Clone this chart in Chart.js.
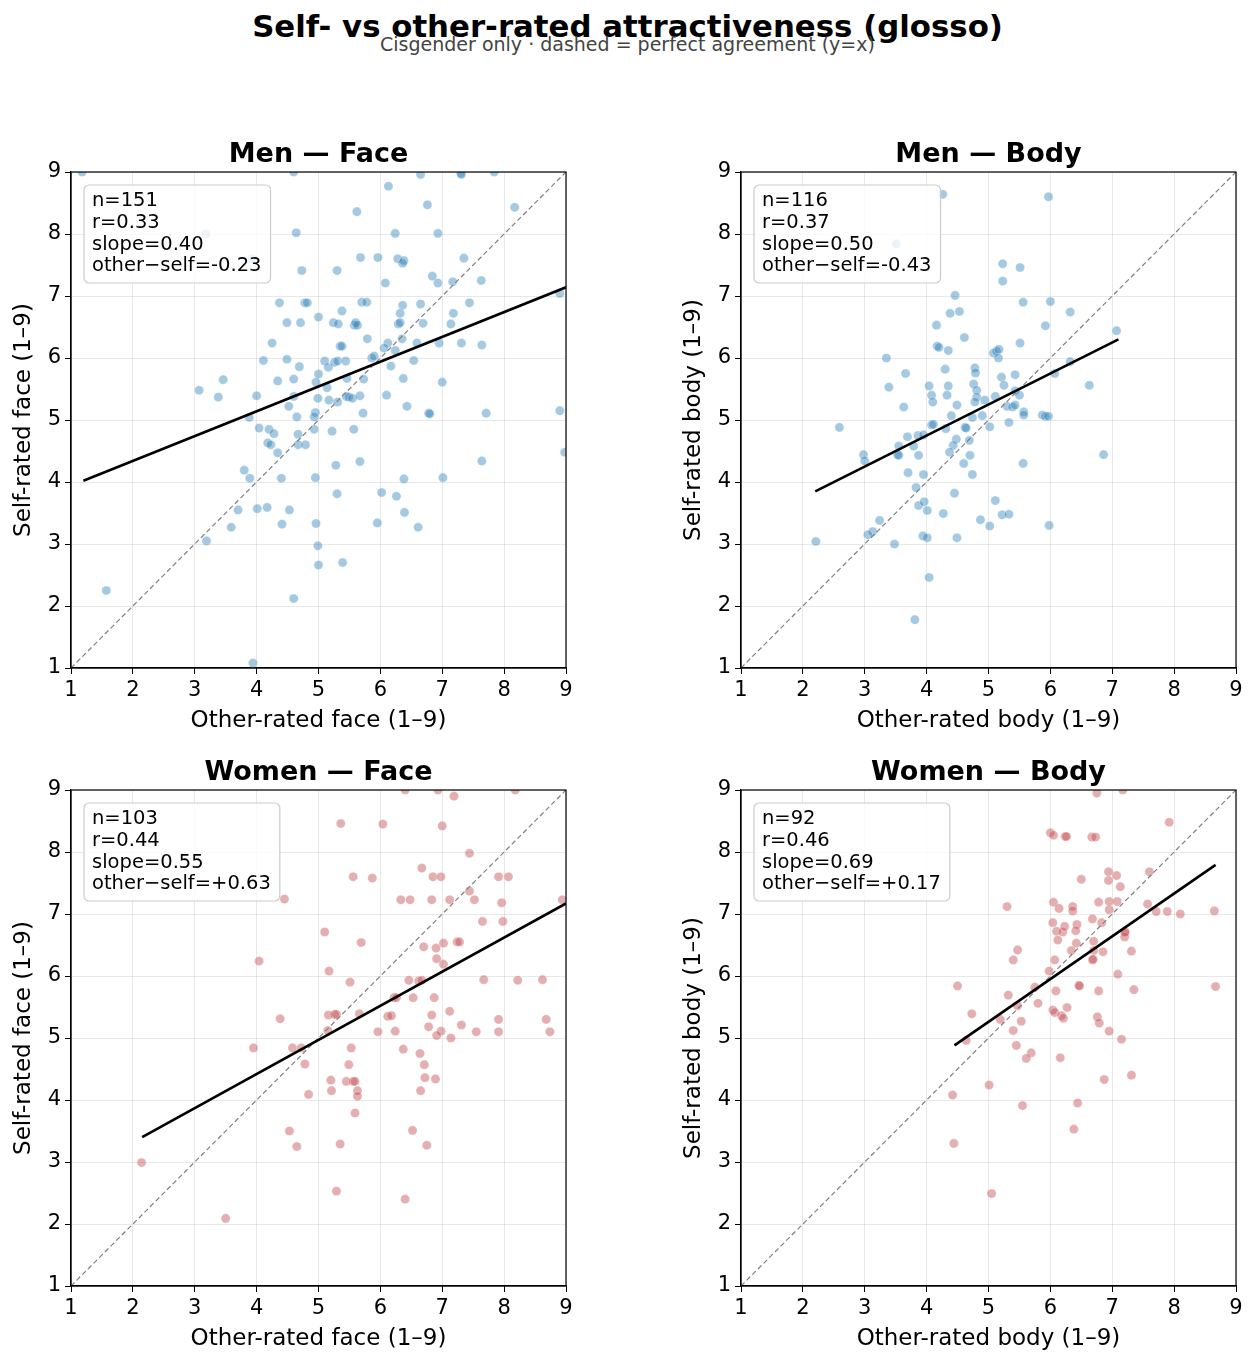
<!DOCTYPE html>
<html>
<head>
<meta charset="utf-8">
<script src="https://cdn.jsdelivr.net/npm/chart.js@4.4.1/dist/chart.umd.min.js"></script>
<style>
  body { margin: 0; background: #fff; width: 1255px; height: 1364px; position: relative; overflow: hidden; font-family: "DejaVu Sans", sans-serif; }
  canvas { position: absolute; }
  #title { position: absolute; left: 0; width: 1255px; top: 9px; text-align: center; font-weight: bold; font-size: 30.8px; line-height: 34px; }
  #sub { position: absolute; left: 0; width: 1255px; top: 34px; text-align: center; font-size: 19px; line-height: 20px; color: #444; }
</style>
</head>
<body>
<div id="title">Self- vs other-rated attractiveness (glosso)</div>
<div id="sub">Cisgender only · dashed = perfect agreement (y=x)</div>
<canvas id="menFace" width="600" height="620" style="left:0;top:130px"></canvas>
<canvas id="menBody" width="585" height="620" style="left:670px;top:130px"></canvas>
<canvas id="womenFace" width="600" height="620" style="left:0;top:748px"></canvas>
<canvas id="womenBody" width="585" height="620" style="left:670px;top:748px"></canvas>
<script>
// axis range and ticks shared by all four panels
const axisMin = 1;
const axisMax = 9;

// Men — face: other-rated (x) vs self-rated (y)
const menFaceOther = [1.18, 4.6, 3.18, 4.64, 3.92, 4.73, 4.37, 4.78, 4.82, 5.0, 4.49, 4.71, 4.25, 4.11, 4.49, 4.69, 3.46, 4.34, 4.6, 3.07,
  3.38, 4.0, 4.52, 4.6, 5.0, 4.96, 4.99, 3.88, 4.65, 4.95, 4.93, 4.93, 4.04, 4.2, 4.28, 4.18, 4.23, 4.67, 4.67, 4.79,
  4.34, 3.8, 3.89, 4.4, 4.95, 3.7, 4.01, 4.17, 4.53, 3.59, 4.41, 4.96, 3.19, 4.99, 5.0, 1.57, 4.6, 3.94,
  6.65, 7.3, 7.31, 7.84, 6.13, 5.62, 6.76, 8.17, 6.24, 6.93, 5.68, 5.96, 6.28, 6.38, 6.36, 7.35, 5.3, 6.08, 6.84, 6.93,
  7.17, 7.63, 8.9, 5.7, 5.78, 5.38, 6.36, 6.65, 7.44, 5.24, 5.32, 5.58, 5.6, 5.63, 6.32, 6.29, 6.32, 6.69, 7.18, 7.14,
  5.79, 5.35, 5.38, 6.12, 6.06, 6.35, 6.24, 6.59, 6.95, 7.31, 7.64, 5.86, 5.9, 6.17, 6.54, 5.1, 5.16, 5.26, 5.31, 5.44,
  5.14, 5.46, 5.73, 6.37, 5.17, 5.31, 5.45, 5.49, 5.55, 5.67, 6.1, 7.0, 5.72, 6.43, 6.78, 6.8, 7.71, 8.9, 5.22, 5.57,
  8.98, 5.28, 5.67, 7.64, 6.38, 7.01, 5.3, 6.02, 6.26, 6.39, 5.95, 6.61, 5.39];
const menFaceSelf = [9.0, 9.0, 8.0, 8.02, 7.6, 7.41, 6.89, 6.89, 6.89, 6.66, 6.57, 6.57, 6.24, 5.96, 5.98, 5.86, 5.65, 5.63, 5.66, 5.48,
  5.37, 5.39, 5.22, 5.38, 5.74, 5.61, 5.35, 5.04, 5.05, 5.12, 5.05, 4.85, 4.87, 4.85, 4.78, 4.63, 4.6, 4.77, 4.6, 4.6,
  4.47, 4.19, 4.06, 4.06, 4.07, 3.55, 3.57, 3.59, 3.55, 3.27, 3.32, 3.33, 3.05, 2.97, 2.66, 2.25, 2.12, 1.08,
  8.96, 8.98, 8.96, 9.0, 8.77, 8.36, 8.47, 8.43, 8.01, 8.01, 7.62, 7.62, 7.6, 7.57, 7.53, 7.61, 7.41, 7.21, 7.32, 7.21,
  7.23, 7.25, 7.04, 6.9, 6.9, 6.76, 6.85, 6.87, 6.89, 6.57, 6.55, 6.53, 6.57, 6.53, 6.72, 6.55, 6.57, 6.56, 6.72, 6.55,
  6.31, 6.19, 6.19, 6.24, 6.16, 6.31, 6.12, 6.24, 6.24, 6.24, 6.21, 6.0, 6.03, 5.87, 5.96, 5.95, 5.85, 5.93, 5.95, 5.95,
  5.52, 5.67, 5.66, 5.67, 5.32, 5.29, 5.38, 5.37, 5.35, 5.39, 5.4, 5.61, 5.11, 5.22, 5.11, 5.1, 5.11, 5.15, 4.82, 4.85,
  4.48, 4.27, 4.33, 4.34, 4.05, 4.07, 3.81, 3.83, 3.77, 3.51, 3.34, 3.27, 2.7];

// Men — body
const menBodyOther = [4.26, 3.51, 4.46, 4.38, 4.53, 4.16, 4.61, 4.17, 4.2, 4.35, 3.35, 3.66, 4.3, 4.78, 4.79, 3.39, 4.04, 4.35, 4.76, 4.81,
  4.08, 4.33, 4.81, 4.1, 4.49, 4.78, 3.63, 4.94, 4.4, 4.74, 4.9, 2.59, 4.08, 4.11, 4.31, 4.62, 4.64, 3.86, 3.95, 3.69,
  3.55, 3.79, 4.48, 4.43, 4.69, 3.53, 3.55, 3.87, 4.37, 4.7, 2.98, 3.0, 4.6, 3.7, 3.95, 4.74, 3.83, 4.45, 3.87, 3.96,
  4.01, 4.27, 3.24, 3.13, 3.05, 4.87, 2.21, 3.48, 3.94, 4.01, 4.49, 4.04, 3.81,
  5.97, 5.23, 5.51, 5.23, 5.56, 6.0, 6.32, 5.92, 7.07, 5.51, 5.08, 5.13, 5.17, 5.16, 6.32, 6.07, 5.21, 5.43, 5.25, 6.63,
  5.11, 5.43, 5.5, 5.3, 5.39, 5.43, 5.57, 5.57, 5.87, 5.92, 5.97, 5.02, 5.33, 6.86, 5.56, 5.11, 5.22, 5.33, 5.02, 5.98];
const menBodySelf = [8.64, 7.84, 7.01, 6.72, 6.75, 6.53, 6.33, 6.19, 6.17, 6.12, 6.0, 5.75, 5.82, 5.84, 5.76, 5.53, 5.55, 5.55, 5.58, 5.48,
  5.4, 5.4, 5.37, 5.29, 5.24, 5.29, 5.21, 5.32, 5.07, 5.04, 5.07, 4.88, 4.92, 4.93, 4.86, 4.88, 4.87, 4.75, 4.76, 4.73,
  4.58, 4.58, 4.69, 4.59, 4.67, 4.44, 4.43, 4.43, 4.48, 4.43, 4.44, 4.34, 4.3, 4.15, 4.12, 4.12, 3.91, 3.82, 3.62, 3.68,
  3.54, 3.49, 3.38, 3.2, 3.15, 3.39, 3.04, 3.0, 3.13, 3.1, 3.1, 2.46, 1.78,
  8.6, 7.52, 7.46, 7.24, 6.9, 6.91, 6.74, 6.52, 6.44, 6.24, 6.08, 6.11, 6.14, 6.0, 5.94, 5.75, 5.69, 5.73, 5.56, 5.56,
  5.38, 5.47, 5.4, 5.22, 5.21, 5.24, 5.13, 5.08, 5.08, 5.06, 5.06, 4.89, 4.96, 4.44, 4.3, 3.7, 3.47, 3.48, 3.29, 3.3];

// Women — face
const womenFaceOther = [4.45, 4.04, 4.38, 3.95, 4.58, 4.72, 4.78, 4.84, 4.53, 4.65, 2.14, 3.5,
  6.4, 6.93, 7.19, 8.18, 5.36, 6.04, 7.0, 7.44, 6.67, 5.56, 5.87, 6.85, 6.98, 7.91, 8.07, 7.44, 6.33, 6.48,
  6.83, 7.12, 7.52, 7.96, 8.94, 7.65, 7.98, 5.1, 5.69, 6.7, 6.9, 7.02, 7.24, 7.28, 6.91, 7.02, 5.17, 5.51, 6.46, 6.62,
  6.67, 7.67, 8.22, 8.62, 6.22, 6.26, 6.53, 6.87, 5.16, 5.26, 5.29, 5.66, 6.12, 6.18, 6.83, 7.12, 7.31, 7.91, 8.68, 5.15,
  5.96, 6.24, 6.78, 6.98, 6.91, 7.14, 7.55, 7.91, 8.74, 5.53, 6.37, 6.64, 5.49, 6.71, 5.2, 5.45, 5.56, 5.59, 6.72, 6.89,
  5.21, 5.63, 5.63, 6.65, 5.59, 6.52, 5.35, 6.75, 5.29, 6.4];
const womenFaceSelf = [7.24, 6.24, 5.31, 4.84, 4.84, 4.84, 4.58, 4.09, 3.5, 3.25, 2.99, 2.09,
  9.0, 9.0, 8.9, 9.0, 8.46, 8.45, 8.42, 7.98, 7.74, 7.6, 7.58, 7.6, 7.6, 7.6, 7.6, 7.37, 7.23, 7.23,
  7.23, 7.23, 7.23, 7.18, 7.23, 6.88, 6.88, 6.71, 6.54, 6.47, 6.45, 6.53, 6.55, 6.55, 6.28, 6.19, 6.08, 5.9, 5.93, 5.92,
  5.93, 5.94, 5.93, 5.94, 5.65, 5.65, 5.65, 5.65, 5.37, 5.38, 5.38, 5.39, 5.35, 5.36, 5.37, 5.43, 5.21, 5.3, 5.3, 5.12,
  5.1, 5.11, 5.18, 5.11, 5.04, 5.0, 5.1, 5.1, 5.1, 4.84, 4.82, 4.75, 4.57, 4.57, 4.32, 4.3, 4.3, 4.3, 4.36, 4.34,
  4.15, 4.15, 4.06, 4.15, 3.79, 3.51, 3.29, 3.27, 2.53, 2.4];

// Women — body
const womenBodyOther = [6.0, 6.05, 6.24, 6.26, 5.3, 6.05, 6.14, 6.04, 6.1, 6.2, 6.23, 6.12, 5.47, 5.4, 6.07, 5.98, 4.5, 5.32, 5.75, 6.09,
  4.73, 5.19, 5.47, 5.8, 6.04, 6.07, 6.18, 6.21, 6.27, 5.53, 5.4, 4.64, 5.45, 5.69, 5.61, 6.16, 5.01, 4.42, 5.55, 4.44, 5.05,
  6.75, 7.17, 7.92, 6.67, 6.73, 6.94, 7.07, 7.6, 6.5, 6.94, 7.13, 6.36, 6.36, 6.78, 6.95, 7.08, 6.95, 7.57, 7.71, 7.89,
  8.1, 8.65, 6.43, 6.41, 6.68, 6.83, 7.2, 7.2, 7.21, 6.42, 6.7, 6.34, 6.7, 6.85, 7.31, 6.68, 6.69, 7.09, 6.46, 6.47,
  6.78, 7.35, 8.67, 6.76, 6.79, 6.95, 7.15, 6.87, 7.31, 6.44, 6.38];
const womenBodySelf = [8.31, 8.27, 8.25, 8.25, 7.12, 7.19, 7.09, 6.86, 6.72, 6.71, 6.8, 6.58, 6.42, 6.26, 6.26, 6.08, 5.84, 5.69, 5.82, 5.76,
  5.39, 5.3, 5.52, 5.56, 5.45, 5.41, 5.36, 5.32, 5.49, 5.27, 5.12, 4.96, 4.88, 4.76, 4.67, 4.68, 4.24, 4.08, 3.91, 3.3, 2.49,
  8.95, 9.0, 8.48, 8.24, 8.24, 7.68, 7.62, 7.68, 7.56, 7.54, 7.44, 7.12, 7.05, 7.19, 7.2, 7.2, 7.07, 7.16, 7.04, 7.04,
  7.0, 7.05, 6.83, 6.73, 6.92, 6.86, 6.7, 6.63, 6.71, 6.53, 6.56, 6.41, 6.41, 6.39, 6.4, 6.26, 6.27, 6.03, 5.85, 5.84,
  5.76, 5.78, 5.83, 5.34, 5.24, 5.11, 4.98, 4.33, 4.4, 3.95, 3.53];

// fitted lines (intercept, slope, x range) and the stats shown in each box
const panelTitles = ['Men — Face', 'Men — Body', 'Women — Face', 'Women — Body'];
const fitIntercept = [3.54, 2.75, 2.22, 1.81];
const fitSlope = [0.40, 0.50, 0.55, 0.69];
const fitFrom = [1.2, 2.2, 2.15, 4.45];
const fitTo = [9.0, 7.1, 9.0, 8.67];
const statN = ['151', '116', '103', '92'];
const statR = ['0.33', '0.37', '0.44', '0.46'];
const statSlope = ['0.40', '0.50', '0.55', '0.69'];
const statDiff = ['-0.23', '-0.43', '+0.63', '+0.17'];

const MEN = 'rgba(31,119,180,0.4)';
const WOMEN = 'rgba(196,78,82,0.45)';
const FONT = '"DejaVu Sans", sans-serif';

const boxPlugin = {
  id: 'panelDeco',
  afterDatasetsDraw(chart, args, opts) {
    const { ctx, chartArea: a } = chart;
    ctx.save();
    // frame on all four sides
    ctx.strokeStyle = '#000';
    ctx.lineWidth = 1.2;
    ctx.strokeRect(a.left, a.top, a.right - a.left, a.bottom - a.top);
    // stats box
    ctx.font = '19.5px ' + FONT;
    const lines = opts.lines;
    const w = Math.max(...lines.map(l => ctx.measureText(l).width)) + 17;
    const x0 = a.left + 13, y0 = a.top + 13, h = 98;
    ctx.beginPath();
    ctx.roundRect(x0, y0, w, h, 5);
    ctx.fillStyle = 'rgba(255,255,255,0.8)';
    ctx.fill();
    ctx.strokeStyle = '#cccccc';
    ctx.lineWidth = 1.2;
    ctx.stroke();
    ctx.fillStyle = '#000';
    ctx.textBaseline = 'middle';
    lines.forEach((l, i) => ctx.fillText(l, x0 + 8, y0 + 16 + i * 21.8));
    // panel title
    ctx.font = 'bold 27px ' + FONT;
    ctx.textAlign = 'center';
    ctx.textBaseline = 'alphabetic';
    ctx.fillText(opts.title, (a.left + a.right) / 2, a.top - 10);
    ctx.restore();
  }
};

function axis(label, isX) {
  return {
    type: 'linear',
    min: axisMin,
    max: axisMax,
    ticks: { stepSize: 1, color: '#000', font: { family: FONT, size: 21 }, padding: 4 },
    grid: { color: 'rgba(0,0,0,0.09)', lineWidth: 1, tickColor: '#000', tickLength: 6 },
    border: { color: '#000', width: 1.2 },
    title: {
      display: true, text: label, color: '#000', font: { family: FONT, size: 23 },
      padding: isX ? { top: 0, bottom: 15 } : { top: 10, bottom: 0 }
    },
    afterFit(s) { if (isX) s.height = 82; else s.width = 71; }
  };
}

function makePanel(id, i, other, self, color, part) {
  const points = other.map((x, k) => ({ x: x, y: self[k] }));
  const fit = [fitFrom[i], fitTo[i]].map(x => ({ x: x, y: fitIntercept[i] + fitSlope[i] * x }));
  new Chart(document.getElementById(id), {
    type: 'scatter',
    data: {
      datasets: [
        { type: 'line', data: fit, borderColor: '#000', borderWidth: 2.6, pointRadius: 0, clip: 0 },
        { type: 'line', data: [{ x: axisMin, y: axisMin }, { x: axisMax, y: axisMax }], borderColor: '#808080',
          borderWidth: 1.2, borderDash: [5, 3], pointRadius: 0, clip: 0 },
        { data: points, backgroundColor: color, borderColor: 'rgba(255,255,255,0.5)', borderWidth: 0.6,
          pointRadius: 4.6, clip: 0 }
      ]
    },
    options: {
      responsive: false,
      animation: false,
      events: [],
      layout: { padding: { top: 42, right: id.endsWith('Body') ? 19 : 34, left: 0, bottom: 0 } },
      scales: {
        x: axis('Other-rated ' + part + ' (1–9)', true),
        y: axis('Self-rated ' + part + ' (1–9)', false)
      },
      plugins: {
        legend: { display: false },
        tooltip: { enabled: false },
        panelDeco: {
          title: panelTitles[i],
          lines: ['n=' + statN[i], 'r=' + statR[i], 'slope=' + statSlope[i], 'other\u2212self=' + statDiff[i]]
        }
      }
    },
    plugins: [boxPlugin]
  });
}

makePanel('menFace', 0, menFaceOther, menFaceSelf, MEN, 'face');
makePanel('menBody', 1, menBodyOther, menBodySelf, MEN, 'body');
makePanel('womenFace', 2, womenFaceOther, womenFaceSelf, WOMEN, 'face');
makePanel('womenBody', 3, womenBodyOther, womenBodySelf, WOMEN, 'body');
</script>
</body>
</html>
